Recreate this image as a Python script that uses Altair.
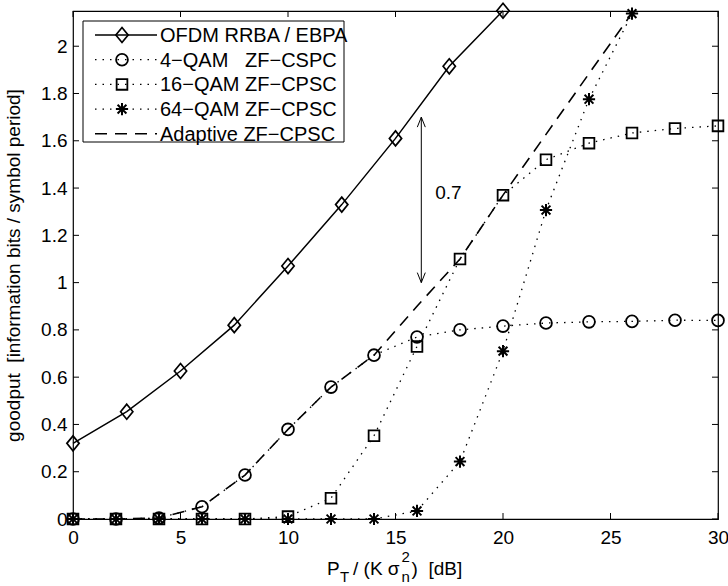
import altair as alt
import pandas as pd

# ---------------- data ----------------
x_ofdm = [0, 2.5, 5, 7.5, 10, 12.5, 15, 17.5, 20]
y_ofdm = [0.32, 0.454, 0.626, 0.82, 1.07, 1.33, 1.61, 1.915, 2.15]

x_qam = [0, 2, 4, 6, 8, 10, 12, 14, 16, 18, 20, 22, 24, 26, 28, 30]
y_4qam = [0, 0, 0.004, 0.052, 0.186, 0.379, 0.558, 0.693, 0.77, 0.80, 0.816, 0.829, 0.834, 0.836, 0.841, 0.84]
y_16qam = [0, 0, 0, 0, 0, 0.01, 0.088, 0.352, 0.73, 1.10, 1.37, 1.52, 1.59, 1.633, 1.652, 1.663]

x_64qam = [0, 2, 4, 6, 8, 10, 12, 14, 16, 18, 20, 22, 24, 26]
y_64qam = [0, 0, 0, 0, 0, 0, 0, 0, 0.034, 0.243, 0.71, 1.307, 1.776, 2.138]

x_adapt = [0, 2, 4, 6, 8, 10, 12, 14, 16, 18, 20, 22, 24, 26]
y_adapt = [0, 0, 0.004, 0.052, 0.186, 0.379, 0.558, 0.693, 0.90, 1.10, 1.37, 1.627, 1.884, 2.14]

legend_names = ["OFDM RRBA / EBPA",
                "4\u2212QAM\u00a0\u00a0\u00a0ZF\u2212CSPC",
                "16\u2212QAM ZF\u2212CPSC",
                "64\u2212QAM ZF\u2212CPSC",
                "Adaptive ZF\u2212CPSC"]

x_tick_values = [0, 5, 10, 15, 20, 25, 30]
y_tick_values = [0, 0.2, 0.4, 0.6, 0.8, 1, 1.2, 1.4, 1.6, 1.8, 2]

arrow_x = [16.2]
arrow_lo = [1.0]
arrow_hi = [1.70]
annot_text = ["0.7"]
annot_x = [16.85]
annot_y = [1.38]

y_title = "goodput\u00a0\u00a0[information bits / symbol period]"

# ---------------- layout / style ----------------
W, H = 645, 508
X0, Y0 = 73, 11
FONT = "Liberation Sans"
FS = 19
FS_LEG = 20

DIAMOND = "M0,-1L0.82,0L0,1L-0.82,0Z"
STAR = "M0,-1L0,1M-1,0L1,0M-0.72,-0.72L0.72,0.72M-0.72,0.72L0.72,-0.72"
ARROW_UP = "M-0.4,1L0,0L0.4,1"
ARROW_DOWN = "M-0.4,-1L0,0L0.4,-1"

DOT = [1.5, 6]
DASH = [12, 8]

xs = alt.Scale(domain=[0, 30], nice=False, zero=False)
ys = alt.Scale(domain=[0, 2.149], nice=False, zero=False)

x_axis = alt.Axis(values=x_tick_values, title=None, ticks=False, tickSize=0, domain=False,
                  grid=False, labelFont=FONT, labelFontSize=FS, labelColor="black",
                  labelPadding=9, labelFlush=False, labelOverlap=False, format="~g")
y_axis = alt.Axis(values=y_tick_values, title=y_title, ticks=False, tickSize=0, domain=False,
                  grid=False, labelFont=FONT, labelFontSize=FS, labelColor="black",
                  labelPadding=6, labelOverlap=False, format="~g",
                  titleFont=FONT, titleFontSize=FS, titleFontWeight="normal", titleColor="black",
                  titleX=13 - X0, titleY=H / 2, titleAngle=270, titleAlign="center",
                  titleBaseline="middle")


def X(f="x"):
    return alt.X(f + ":Q", scale=xs, axis=x_axis)


def Y(f="y"):
    return alt.Y(f + ":Q", scale=ys, axis=y_axis)


def df(xv, yv):
    return pd.DataFrame({"x": xv, "y": yv})


def line(d, dash=None, width=1.3):
    kw = dict(color="black", strokeWidth=width, strokeCap="butt")
    if dash:
        kw["strokeDash"] = dash
    return alt.Chart(d).mark_line(**kw).encode(x=X(), y=Y())


def pts(d, shape, size, sw=1.7):
    return alt.Chart(d).mark_point(shape=shape, size=size, filled=False, color="black",
                                   strokeWidth=sw, opacity=1).encode(x=X(), y=Y())


layers = []

# series: OFDM
d_ofdm = df(x_ofdm, y_ofdm)
layers += [line(d_ofdm, None, 1.5), pts(d_ofdm, DIAMOND, 225)]
# 4-QAM
d4 = df(x_qam, y_4qam)
layers += [line(d4, DOT, 1.3), pts(d4, "circle", 140, 1.8)]
# 16-QAM
d16 = df(x_qam, y_16qam)
layers += [line(d16, DOT, 1.3), pts(d16, "square", 115, 1.8)]
# 64-QAM
d64 = df(x_64qam, y_64qam)
layers += [line(d64, DOT, 1.3), pts(d64, STAR, 150, 2.0)]
# adaptive
dad = df(x_adapt, y_adapt)
layers += [line(dad, DASH, 1.6)]

# inward ticks on all four sides
dxt = pd.DataFrame({"x": x_tick_values})
dyt = pd.DataFrame({"y": y_tick_values})
layers += [
    alt.Chart(dxt).mark_rule(color="black", strokeWidth=1).encode(x=X(), y=alt.value(H), y2=alt.value(H - 6)),
    alt.Chart(dxt).mark_rule(color="black", strokeWidth=1).encode(x=X(), y=alt.value(0), y2=alt.value(6)),
    alt.Chart(dyt).mark_rule(color="black", strokeWidth=1).encode(y=Y(), x=alt.value(0), x2=alt.value(6)),
    alt.Chart(dyt).mark_rule(color="black", strokeWidth=1).encode(y=Y(), x=alt.value(W), x2=alt.value(W - 6)),
]

# annotation arrow "0.7"
darrow = pd.DataFrame({"x": arrow_x, "y": arrow_lo, "y2": arrow_hi})
layers += [
    alt.Chart(darrow).mark_rule(color="black", strokeWidth=1).encode(x=X(), y=Y(), y2="y2:Q"),
    alt.Chart(pd.DataFrame({"x": arrow_x, "y": arrow_hi})).mark_point(
        shape=ARROW_UP, size=400, filled=False, color="black", strokeWidth=1, opacity=1).encode(x=X(), y=Y()),
    alt.Chart(pd.DataFrame({"x": arrow_x, "y": arrow_lo})).mark_point(
        shape=ARROW_DOWN, size=400, filled=False, color="black", strokeWidth=1, opacity=1).encode(x=X(), y=Y()),
    alt.Chart(pd.DataFrame({"x": annot_x, "y": annot_y, "t": annot_text})).mark_text(
        align="left", baseline="middle", font=FONT, fontSize=FS, color="black").encode(x=X(), y=Y(), text="t:N"),
]

# legend box
one = pd.DataFrame({"a": [0]})
layers.append(alt.Chart(one).mark_rect(fill="white", stroke="black", strokeWidth=1).encode(
    x=alt.value(83 - X0), x2=alt.value(344 - X0), y=alt.value(21 - Y0), y2=alt.value(142 - Y0)))

leg_styles = [
    (None, 1.5, DIAMOND, 225, 1.7),
    (DOT, 1.3, "circle", 140, 1.8),
    (DOT, 1.3, "square", 115, 1.8),
    (DOT, 1.3, STAR, 150, 2.0),
    (DASH, 1.6, None, None, None),
]
for i, (name, (dash, lw, shape, size, msw)) in enumerate(zip(legend_names, leg_styles)):
    ry = 35 + 24.7 * i - Y0
    rk = dict(color="black", strokeWidth=lw, strokeCap="butt")
    if dash:
        rk["strokeDash"] = dash
    layers.append(alt.Chart(one).mark_rule(**rk).encode(
        x=alt.value(95 - X0), x2=alt.value(157 - X0), y=alt.value(ry)))
    if shape:
        layers.append(alt.Chart(one).mark_point(shape=shape, size=size, filled=False, color="black",
                                                strokeWidth=msw, opacity=1).encode(
            x=alt.value(122 - X0), y=alt.value(ry)))
    layers.append(alt.Chart(pd.DataFrame({"t": [name]})).mark_text(
        align="left", baseline="middle", font=FONT, fontSize=FS_LEG, color="black").encode(
        x=alt.value(160 - X0), y=alt.value(ry + 1), text="t:N"))

# x-axis title made of pieces (sub/superscripts)
xt_text = ["P", "T", "/\u00a0(K\u00a0\u03c3", "2", "n", ")\u00a0\u00a0[dB]"]
xt_left = [327, 340, 353, 401.5, 401.5, 411.5]
xt_base = [575, 582, 575, 562, 582, 575]
xt_size = [19, 15, 19, 15, 15, 19]
for t, lx, by, fs in zip(xt_text, xt_left, xt_base, xt_size):
    layers.append(alt.Chart(pd.DataFrame({"t": [t]})).mark_text(
        align="left", baseline="alphabetic", font=FONT, fontSize=fs, color="black").encode(
        x=alt.value(lx - X0), y=alt.value(by - Y0), text="t:N"))

chart = alt.layer(*layers).properties(
    width=W, height=H,
    autosize=alt.AutoSizeParams(type="none"),
    padding={"left": X0, "top": Y0, "right": 728 - X0 - W, "bottom": 586 - Y0 - H},
    background="white",
).configure_view(stroke="black", strokeWidth=1.2)

chart.save("out.html", embed_options={"renderer": "svg", "actions": False})
